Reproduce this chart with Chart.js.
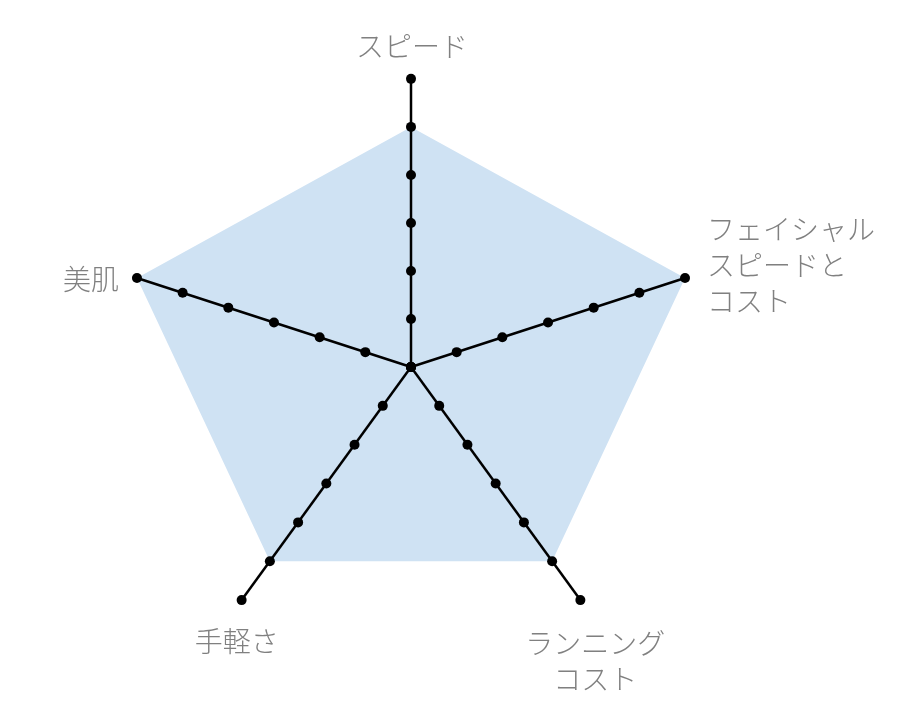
<!DOCTYPE html>
<html><head><meta charset="utf-8">
<script src="https://cdn.jsdelivr.net/npm/chart.js@4"></script>
<style>html,body{margin:0;padding:0;background:#fff;overflow:hidden;width:900px;height:707px}#wrap{position:absolute;left:0;top:-34px;width:924px;height:778px}</style>
</head><body><div id="wrap"><canvas id="c"></canvas></div>
<script>
const categories = [['スピード'], ['フェイシャル','スピードと','コスト'], ['ランニング','コスト'], ['手軽さ'], ['美肌']];
const scores = [5, 6, 5, 5, 6];
const tickLevels = [0, 1, 2, 3, 4, 5, 6];

const labelGap = [15, 21, 27, 27, 20];

const dotSets = tickLevels.map(v => ({
  data: categories.map(() => v),
  showLine: false,
  fill: false,
  pointRadius: 5,
  pointBackgroundColor: '#000',
  pointBorderWidth: 0,
  borderWidth: 0,
  order: 0
}));

// custom placement of the axis labels, relative to each axis end point
const labelPlacer = {
  id: 'labelPlacer',
  afterDraw(chart) {
    const place = [
      {dx: 1, dy: -33, align: 'center'},
      {dx: 22, dy: -12.5, align: 'left'},
      {dx: 15, dy: 61, align: 'center'},
      {dx: -5, dy: 41, align: 'center'},
      {dx: -18, dy: 1, align: 'right'}
    ];
    const scale = chart.scales.r;
    const ctx = chart.ctx;
    const lh = 36;
    ctx.save();
    ctx.font = '300 28px "Noto Sans CJK JP"';
    ctx.fillStyle = '#808080';
    ctx.textBaseline = 'middle';
    categories.forEach((lines, i) => {
      const p = scale.getPointPosition(i, scale.drawingArea);
      const cx = p.x + place[i].dx;
      const cy = p.y + place[i].dy;
      ctx.textAlign = place[i].align;
      const top = cy - (lines.length - 1) * lh / 2;
      lines.forEach((t, k) => ctx.fillText(t, cx, top + k * lh));
    });
    ctx.restore();
  }
};

new Chart(document.getElementById('c'), {
  type: 'radar',
  data: {
    labels: categories,
    datasets: [{
      data: scores,
      backgroundColor: 'rgb(207,226,243)',
      borderWidth: 0,
      pointRadius: 0,
      fill: true,
      order: 1
    }, ...dotSets]
  },
  options: {
    responsive: true,
    maintainAspectRatio: false,
    animation: false,
    layout: {padding: 0},
    plugins: {legend: {display: false}, tooltip: {enabled: false}},
    scales: {
      r: {
        min: 0, max: 6,
        ticks: {display: false, stepSize: 1, z: 1},
        grid: {display: false, z: 1},
        angleLines: {display: true, color: '#000', lineWidth: 2.5},
        pointLabels: {
          color: 'rgba(0,0,0,0)',
          padding: ctx => labelGap[ctx.index],
          font: {family: '"Noto Sans CJK JP"', size: 28, weight: 300, lineHeight: 1.32}
        }
      }
    }
  },
  plugins: [labelPlacer]
});
</script></body></html>
